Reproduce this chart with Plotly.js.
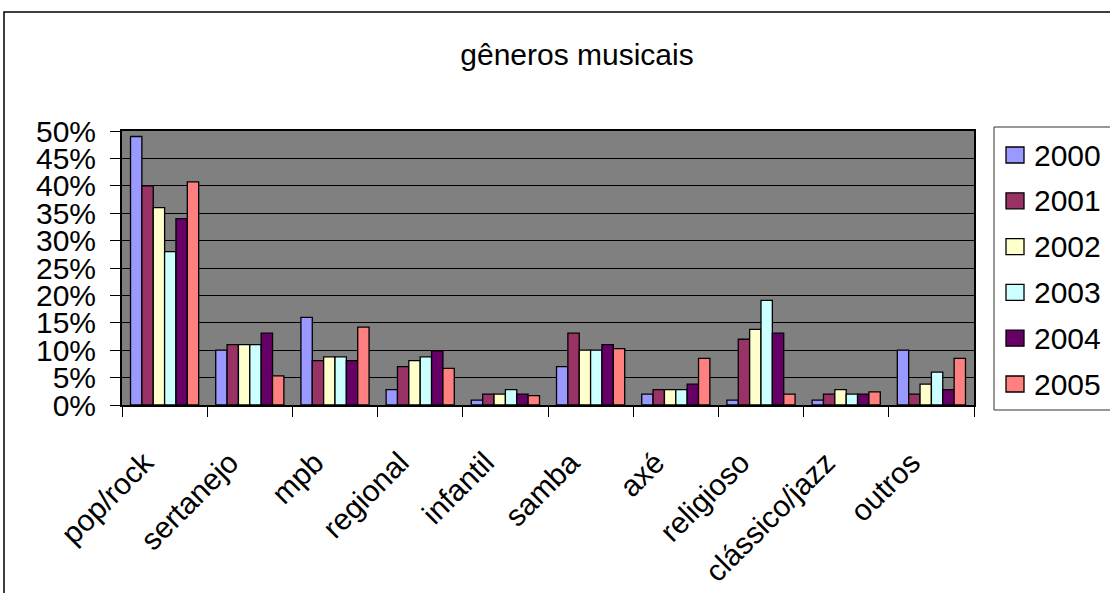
<!DOCTYPE html>
<html>
<head>
<meta charset="utf-8">
<script src="https://cdn.plot.ly/plotly-3.0.1.min.js"></script>
<style>html,body{margin:0;padding:0;background:#fff;}#chart{width:1110px;height:593px;}</style>
</head>
<body>
<div id="chart"></div>
<script>
const categories = ["pop/rock","sertanejo","mpb","regional","infantil","samba","axé","religioso","clássico/jazz","outros"];
const years = ["2000","2001","2002","2003","2004","2005"];
const v2000 = [0.49, 0.10, 0.16, 0.028, 0.009, 0.07, 0.02, 0.009, 0.009, 0.10];
const v2001 = [0.40, 0.11, 0.081, 0.07, 0.02, 0.131, 0.028, 0.12, 0.02, 0.02];
const v2002 = [0.36, 0.11, 0.088, 0.081, 0.02, 0.10, 0.028, 0.138, 0.028, 0.038];
const v2003 = [0.28, 0.11, 0.088, 0.088, 0.028, 0.10, 0.028, 0.191, 0.02, 0.06];
const v2004 = [0.34, 0.131, 0.081, 0.099, 0.02, 0.11, 0.038, 0.131, 0.02, 0.028];
const v2005 = [0.407, 0.053, 0.142, 0.067, 0.017, 0.103, 0.085, 0.02, 0.024, 0.085];
const colors = ["#9999FF","#993366","#FFFFCC","#CCFFFF","#660066","#FF8080"];
const series = [v2000, v2001, v2002, v2003, v2004, v2005];

const font = "Liberation Sans, Arial, sans-serif";
const FS = 30;
const traces = series.map((vals, i) => ({
  type: "bar",
  name: years[i],
  x: categories,
  y: vals,
  showlegend: false,
  marker: {color: colors[i], line: {color: "#000000", width: 1.3}}
}));

const W = 1110, H = 593;
const L = 122, R = 974, T = 131, B = 405;
const pw = R - L, ph = B - T;
const px = x => (x - L) / pw;
const py = y => (B - y) / ph;

// manual legend (built from years / colors)
const shapes = [
  {type: "rect", xref: "paper", yref: "paper",
   x0: px(4), x1: px(1120), y0: py(605), y1: py(12),
   line: {color: "#000000", width: 1.5}, fillcolor: "rgba(0,0,0,0)", layer: "below"},
  {type: "rect", xref: "paper", yref: "paper",
   x0: px(994), x1: px(1120), y0: py(410), y1: py(127),
   line: {color: "#333333", width: 1}, fillcolor: "#ffffff", layer: "above"}
];
const annotations = [];
years.forEach((yr, i) => {
  const cy = 155 + i * 45.8;
  shapes.push({type: "rect", xref: "paper", yref: "paper",
    x0: px(1006), x1: px(1024), y0: py(cy + 8), y1: py(cy - 8),
    line: {color: "#000000", width: 1.3}, fillcolor: colors[i], layer: "above"});
  annotations.push({xref: "paper", yref: "paper", x: px(1032), y: py(cy),
    xanchor: "left", yanchor: "middle", showarrow: false, text: yr,
    font: {family: font, size: FS, color: "#000"}});
});

const layout = {
  width: W, height: H,
  margin: {l: L, r: W - R, t: T, b: H - B, pad: 0},
  paper_bgcolor: "#ffffff",
  plot_bgcolor: "#808080",
  font: {family: font, size: FS, color: "#000000"},
  title: {text: "gêneros musicais", font: {family: font, size: 30, color: "#000"},
          xref: "container", x: 577 / W, xanchor: "center",
          yref: "container", y: 1 - 54 / H, yanchor: "middle"},
  barmode: "group",
  bargap: 0.2,
  bargroupgap: 0,
  showlegend: false,
  xaxis: {
    type: "category",
    tickson: "boundaries",
    ticks: "outside", ticklen: 10, tickcolor: "#000", tickwidth: 1,
    tickangle: -45,
    ticklabelstandoff: 26,
    ticklabelshift: -20,
    tickfont: {family: font, size: FS, color: "#000"},
    showline: true, linecolor: "#000", linewidth: 2, mirror: true,
    showgrid: false, zeroline: false
  },
  yaxis: {
    range: [0, 0.5],
    dtick: 0.05,
    tickformat: ".0%",
    ticks: "outside", ticklen: 10, tickcolor: "#000", tickwidth: 1,
    ticklabelstandoff: 8,
    tickfont: {family: font, size: FS, color: "#000"},
    showline: true, linecolor: "#000", linewidth: 2, mirror: true,
    showgrid: true, gridcolor: "#000000", gridwidth: 1,
    zeroline: false
  },
  shapes: shapes,
  annotations: annotations
};

Plotly.newPlot("chart", traces, layout, {displayModeBar: false, staticPlot: true});
</script>
</body>
</html>
